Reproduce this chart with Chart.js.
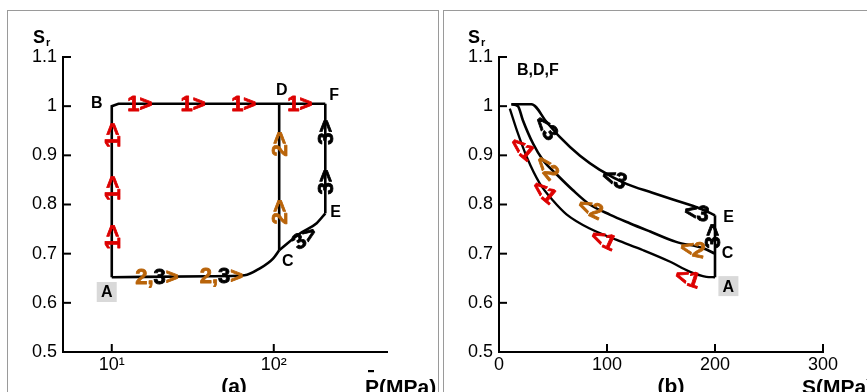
<!DOCTYPE html>
<html><head><meta charset="utf-8">
<script src="https://cdn.jsdelivr.net/npm/chart.js@4"></script>
<style>
body{margin:0;background:#fff;}
#wrap{position:relative;width:867px;height:392px;overflow:hidden;background:#fff;}
.frame{position:absolute;top:10px;height:420px;border:1.5px solid #9a9a9a;box-sizing:border-box;}
canvas{position:absolute;top:0;}
</style></head><body>
<div id="wrap">
<div class="frame" style="left:7px;width:432px;"></div>
<div class="frame" style="left:443px;width:440px;"></div>
<canvas id="ca" width="440" height="392" style="left:0"></canvas>
<canvas id="cb" width="427" height="392" style="left:440px"></canvas>
</div>
<script>
// ---------- data ----------
const yTicks = [0.5, 0.6, 0.7, 0.8, 0.9, 1.0, 1.1];
const xTicksA = [10, 100];
const xTicksB = [0, 100, 200, 300];

// panel (a): Sr vs mean stress P (log axis)
const aPath1P  = [10, 10, 11, 208];            // A -> B -> F
const aPath1Sr = [0.652, 1.0, 1.005, 1.005];
const aPath2P  = [10, 40, 66, 82, 99, 108];     // A -> C
const aPath2Sr = [0.652, 0.654, 0.656, 0.670, 0.690, 0.707];
const aLineDP  = [108, 108];                    // C -> D
const aLineDSr = [0.707, 1.005];
const aPath3P  = [108, 145, 184, 208];          // C -> E
const aPath3Sr = [0.707, 0.741, 0.762, 0.782];
const aLineFP  = [208, 208];                    // E -> F
const aLineFSr = [0.782, 1.005];

// panel (b): Sr vs deviatoric stress S
const bCurve1S  = [200, 192, 177, 158, 133.5, 109, 84, 62.5, 50, 37.7, 26, 17.6, 10];
const bCurve1Sr = [0.652, 0.653, 0.663, 0.684, 0.707, 0.728, 0.751, 0.780, 0.808, 0.843, 0.895, 0.944, 0.995];
const bCurve2S  = [200, 189, 164, 140, 121, 103, 84, 68, 53, 40.8, 31.5, 22, 17.6, 11.5];
const bCurve2Sr = [0.700, 0.711, 0.724, 0.745, 0.762, 0.779, 0.800, 0.830, 0.862, 0.890, 0.924, 0.972, 1.0, 1.004];
const bCurve3S  = [200, 186, 161, 142, 118, 93, 75, 56, 44, 30, 11.5];
const bCurve3Sr = [0.778, 0.792, 0.810, 0.824, 0.842, 0.871, 0.899, 0.938, 0.968, 1.004, 1.004];
const bLineAES  = [200, 200];
const bLineAESr = [0.652, 0.778];

// ---------- styles ----------
const FONT = 'Liberation Sans, Arial, sans-serif';
const RED = '#dd0000', ORA = '#b9640a', BLK = '#000000';

const annA = [
  {x:10, y:0.941, t:[['1>',RED]], r:-90},
  {x:10, y:0.833, t:[['1>',RED]], r:-90},
  {x:10, y:0.734, t:[['1>',RED]], r:-90},
  {x:14.9, y:1.006, t:[['1>',RED]], r:0},
  {x:31.8, y:1.006, t:[['1>',RED]], r:0},
  {x:65.2, y:1.006, t:[['1>',RED]], r:0},
  {x:145, y:1.006, t:[['1>',RED]], r:0},
  {x:108, y:0.923, t:[['2>',ORA]], r:-90},
  {x:108, y:0.785, t:[['2>',ORA]], r:-90},
  {x:208, y:0.947, t:[['3>',BLK]], r:-90},
  {x:208, y:0.846, t:[['3>',BLK]], r:-90},
  {x:153.5, y:0.734, t:[['3>',BLK]], r:-35},
  {x:19.0, y:0.654, t:[['2,',ORA],['3',BLK],['>',ORA]], r:0},
  {x:47.5, y:0.656, t:[['2,',ORA],['3',BLK],['>',ORA]], r:0}
];
const lblA = [
  {x:8.07, y:1.008, t:'B'}, {x:112, y:1.033, t:'D'}, {x:236, y:1.024, t:'F'},
  {x:241, y:0.785, t:'E'}, {x:122, y:0.685, t:'C'}, {x:9.31, y:0.622, t:'A', box:true}
];
const annB = [
  {x:22, y:0.915, t:[['<1',RED]], r:40},
  {x:42.4, y:0.827, t:[['<1',RED]], r:40},
  {x:97, y:0.730, t:[['<1',RED]], r:25},
  {x:174.8, y:0.652, t:[['<1',RED]], r:18},
  {x:45.1, y:0.876, t:[['<2',ORA]], r:50},
  {x:85, y:0.793, t:[['<2',ORA]], r:25},
  {x:179.5, y:0.711, t:[['<2',ORA]], r:12},
  {x:44.2, y:0.957, t:[['<3',BLK]], r:50},
  {x:107.2, y:0.854, t:[['<3',BLK]], r:20},
  {x:183.2, y:0.785, t:[['<3',BLK]], r:10},
  {x:197, y:0.736, t:[['3>',BLK]], r:-90}
];
const lblB = [
  {x:35.9, y:1.075, t:'B,D,F'}, {x:212.5, y:0.776, t:'E'}, {x:211.5, y:0.703, t:'C'},
  {x:212.4, y:0.634, t:'A', box:true}
];

function pts(xs, ys){ return xs.map((x,i)=>({x:x, y:ys[i]})); }
function ds(xs, ys, smooth, w){
  return {data: pts(xs, ys), showLine:true, borderColor:'#000', borderWidth:w || 2.6,
          pointRadius:0, fill:false, tension:0,
          cubicInterpolationMode: smooth ? 'monotone' : 'default'};
}

const sup = {1:'\u00b9', 2:'\u00b2', 3:'\u00b3'};

function drawParts(ctx, px, py, parts, rot, size){
  ctx.save();
  ctx.translate(px, py);
  ctx.rotate(rot*Math.PI/180);
  ctx.font = 'bold ' + size + 'px ' + FONT;
  ctx.textBaseline = 'alphabetic';
  ctx.lineWidth = 0.8; ctx.lineJoin = 'round';
  let w = 0; parts.forEach(p=>{ w += ctx.measureText(p[0]).width; });
  let x = -w/2;
  parts.forEach(p=>{
    ctx.fillStyle = p[1]; ctx.strokeStyle = p[1];
    ctx.fillText(p[0], x, 0.36*size); ctx.strokeText(p[0], x, 0.36*size);
    x += ctx.measureText(p[0]).width;
  });
  ctx.restore();
}

function makePlugin(ann, lbl, extra){
  return {
    id:'deco',
    afterDraw(chart){
      const ctx = chart.ctx, xs = chart.scales.x, ys = chart.scales.y, ca = chart.chartArea;
      ctx.save();
      // inward ticks
      ctx.strokeStyle = '#000'; ctx.lineWidth = 2;
      ys.ticks.forEach(t=>{ const p = ys.getPixelForValue(t.value); ctx.beginPath(); ctx.moveTo(ca.left, p); ctx.lineTo(ca.left+8, p); ctx.stroke(); });
      xs.ticks.forEach(t=>{ const p = xs.getPixelForValue(t.value); ctx.beginPath(); ctx.moveTo(p, ca.bottom); ctx.lineTo(p, ca.bottom-8); ctx.stroke(); });
      // annotations
      ann.forEach(a=>drawParts(ctx, xs.getPixelForValue(a.x), ys.getPixelForValue(a.y), a.t, a.r, 22));
      ctx.font = 'bold 16px ' + FONT; ctx.textAlign = 'center'; ctx.textBaseline = 'middle';
      lbl.forEach(l=>{
        const px = xs.getPixelForValue(l.x), py = ys.getPixelForValue(l.y);
        if (l.box){ ctx.fillStyle = '#d9d9d9'; ctx.fillRect(px-10, py-10, 20, 20); }
        ctx.fillStyle = '#000'; ctx.fillText(l.t, px, py+1);
      });
      extra(ctx);
      ctx.restore();
    }
  };
}

function axisTitles(ctx, sX, sbX, lblX, tx, tcx, barX){
  ctx.fillStyle = '#000'; ctx.textAlign = 'left'; ctx.textBaseline = 'alphabetic';
  ctx.font = 'bold 18px ' + FONT; ctx.fillText('S', sX, 43);
  ctx.font = 'bold 11px ' + FONT; ctx.fillText('r', sX+13, 46);
  ctx.font = 'bold 21px ' + FONT;
  ctx.textAlign = 'center'; ctx.fillText(tcx, lblX, 393);
  ctx.textAlign = 'left'; ctx.fillText(tx, sbX, 394);
  if (barX !== null){ ctx.fillRect(barX, 370, 6, 2.2); }
}

function opts(xScale, yWidth, padRight){
  return {
    responsive:false, animation:false,
    layout:{padding:{left:0, right:padRight, top:57, bottom:0}},
    plugins:{legend:{display:false}, tooltip:{enabled:false}},
    scales:{
      x: xScale,
      y: {type:'linear', min:0.5, max:1.1,
          afterBuildTicks:(s)=>{ s.ticks = yTicks.map(v=>({value:v})); },
          afterFit:(s)=>{ s.width = yWidth; },
          grid:{display:false, drawTicks:false},
          border:{display:true, color:'#000', width:2},
          ticks:{color:'#000', padding:6, font:{family:FONT, size:18},
                 callback:(v)=>String(+Number(v).toFixed(1))}}
    }
  };
}

const xA = {type:'logarithmic', min:5, max:500,
  afterBuildTicks:(s)=>{ s.ticks = xTicksA.map(v=>({value:v})); },
  afterFit:(s)=>{ s.height = 40; },
  grid:{display:false, drawTicks:false},
  border:{display:true, color:'#000', width:2},
  ticks:{color:'#000', padding:2, maxRotation:0, font:{family:FONT, size:18},
         callback:(v)=>'10' + sup[Math.round(Math.log10(v))]}};

const xB = {type:'linear', min:0, max:300,
  afterBuildTicks:(s)=>{ s.ticks = xTicksB.map(v=>({value:v})); },
  afterFit:(s)=>{ s.height = 40; },
  grid:{display:false, drawTicks:false},
  border:{display:true, color:'#000', width:2},
  ticks:{color:'#000', padding:2, maxRotation:0, font:{family:FONT, size:18},
         callback:(v)=>String(v)}};

new Chart(document.getElementById('ca'), {
  type:'scatter',
  data:{datasets:[
    ds(aPath1P, aPath1Sr, false),
    ds(aPath2P, aPath2Sr, true),
    ds(aLineDP, aLineDSr, false),
    ds(aPath3P, aPath3Sr, true),
    ds(aLineFP, aLineFSr, false)
  ]},
  options: opts(xA, 63, 53),
  plugins:[makePlugin(annA, lblA, (ctx)=>axisTitles(ctx, 33, 365, 234, 'P(MPa)', '(a)', 368))]
});

new Chart(document.getElementById('cb'), {
  type:'scatter',
  data:{datasets:[
    ds(bCurve1S, bCurve1Sr, true, 2.3),
    ds(bCurve2S, bCurve2Sr, true),
    ds(bCurve3S, bCurve3Sr, true),
    ds(bLineAES, bLineAESr, false)
  ]},
  options: opts(xB, 59, 44),
  plugins:[makePlugin(annB, lblB, (ctx)=>axisTitles(ctx, 28, 362, 231, 'S(MPa)', '(b)', null))]
});
</script>
</body></html>
